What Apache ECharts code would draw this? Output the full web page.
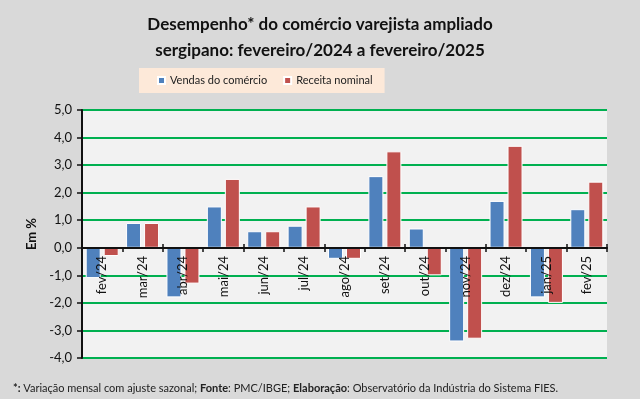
<!DOCTYPE html>
<html>
<head>
<meta charset="utf-8">
<script src="https://cdn.jsdelivr.net/npm/echarts@6/dist/echarts.min.js"></script>
<style>
  html, body { margin: 0; padding: 0; background: #d9d9d9; }
  #chart { width: 640px; height: 399px; }
</style>
</head>
<body>
<div id="chart"></div>
<script>
// months shown on the x axis
var months = ['fev/24', 'mar/24', 'abr/24', 'mai/24', 'jun/24', 'jul/24', 'ago/24',
              'set/24', 'out/24', 'nov/24', 'dez/24', 'jan/25', 'fev/25'];

// monthly change, seasonally adjusted (%)
var vendas  = [-1.1, 0.9, -1.8, 1.5, 0.6, 0.8, -0.4, 2.6, 0.7, -3.4, 1.7, -1.8, 1.4];
var receita = [-0.3, 0.9, -1.3, 2.5, 0.6, 1.5, -0.4, 3.5, -1.0, -3.3, 3.7, -2.0, 2.4];

var seriesNames = ['Vendas do comércio', 'Receita nominal'];

var font = "Lato, sans-serif";

var chartDom = document.getElementById('chart');
var myChart = echarts.init(chartDom);

// the zero line sits 110px above the bottom of the grid (-4..0 of -4..5)
var zeroOffset = -110;

var option = {
  backgroundColor: '#d9d9d9',
  textStyle: { fontFamily: font },
  title: [
    {
      text: 'Desempenho* do comércio varejista ampliado\nsergipano: fevereiro/2024 a fevereiro/2025',
      left: 'center',
      top: 7,
      textStyle: { fontSize: 17, fontWeight: 'bold', color: '#111', lineHeight: 26, fontFamily: font }
    },
    {
      text: '{b|*:} Variação mensal com ajuste sazonal; {b|Fonte}: PMC/IBGE; {b|Elaboração}: Observatório da Indústria do Sistema FIES.',
      left: 8,
      top: 378,
      textStyle: {
        fontSize: 11, fontWeight: 'normal', color: '#222', fontFamily: font,
        rich: { b: { fontSize: 11, fontWeight: 'bold', color: '#222', fontFamily: font } }
      }
    }
  ],
  legend: {
    data: seriesNames,
    left: 139,
    top: 68,
    backgroundColor: '#fde9d9',
    padding: [7, 12, 7, 18],
    itemWidth: 7,
    itemHeight: 7,
    itemGap: 16,
    icon: 'rect',
    textStyle: { fontSize: 11, color: '#222', fontFamily: font }
  },
  grid: {
    left: 82,
    right: 33,
    top: 110,
    bottom: 41,
    outerBoundsMode: 'none',
    show: true,
    backgroundColor: '#f2f2f2',
    borderWidth: 0
  },
  xAxis: [
    {
      type: 'category',
      data: months,
      position: 'bottom',
      offset: zeroOffset,
      z: 5,
      axisLine: { onZero: false, lineStyle: { color: '#111', width: 2 } },
      axisTick: { show: true, length: 4, lineStyle: { color: '#111', width: 1.5 } },
      axisLabel: { rotate: 90, fontSize: 13, color: '#111', margin: 8, fontFamily: font },
      splitLine: { show: false }
    },
    {
      // upper half of the crossing tick marks on the zero line
      type: 'category',
      data: months,
      position: 'bottom',
      offset: zeroOffset,
      z: 5,
      axisLine: { show: false, onZero: false },
      axisTick: { show: true, inside: true, length: 4, lineStyle: { color: '#111', width: 1.5 } },
      axisLabel: { show: false },
      splitLine: { show: false }
    }
  ],
  yAxis: {
    type: 'value',
    min: -4,
    max: 5,
    interval: 1,
    name: 'Em %',
    nameLocation: 'middle',
    nameGap: 44,
    nameTextStyle: { fontSize: 13, fontWeight: 'bold', color: '#111', fontFamily: font },
    axisLine: { show: true, lineStyle: { color: '#111', width: 2 } },
    axisTick: { show: true, length: 5, lineStyle: { color: '#111', width: 1.5 } },
    axisLabel: {
      fontSize: 13, color: '#111', margin: 10, fontFamily: font,
      formatter: function (v) { return v.toFixed(1).replace('.', ','); }
    },
    splitLine: { show: true, lineStyle: { color: '#00b050', width: 2 } }
  },
  series: [
    {
      name: seriesNames[0],
      type: 'bar',
      data: vendas,
      barWidth: 15,
      barGap: '20%',
      itemStyle: { color: '#4f81bd', borderColor: '#ffffff', borderWidth: 1 }
    },
    {
      name: seriesNames[1],
      type: 'bar',
      data: receita,
      barWidth: 15,
      itemStyle: { color: '#c0504d', borderColor: '#ffffff', borderWidth: 1 }
    }
  ]
};

myChart.setOption(option);
</script>
</body>
</html>
